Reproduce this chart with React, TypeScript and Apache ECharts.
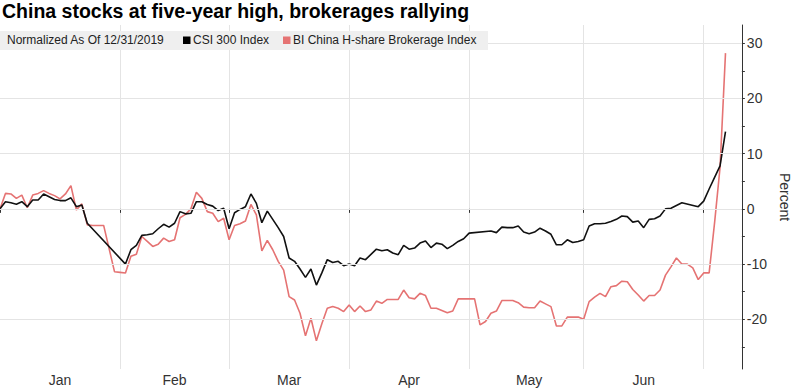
import { useEffect, useRef } from 'react';
import * as echarts from 'echarts';

const titleText = 'China stocks at five-year high, brokerages rallying';
const legendNote = 'Normalized As Of 12/31/2019';
const csiName = 'CSI 300 Index';
const brkName = 'BI China H-share Brokerage Index';
const monthLabels = ['Jan', 'Feb', 'Mar', 'Apr', 'May', 'Jun'];
const yLabelValues = [-20, -10, 0, 10, 20, 30];
const yTickValues = [-25, -20, -15, -10, -5, 0, 5, 10, 15, 20, 25, 30];
const gridValues = [-20, -10, 0, 10, 20, 30];
const axisStart = '2020-01-01';
const axisEnd = '2020-07-09';

// values per weekday of each month (null = market closed)
const csiJan = [0, 1.3, 1.1, 0.85, 1.3, 0.4, 1.6, 1.6, 2.7, 2.2, 1.7, 1.5, 1.5, 2.0, 0.4, 0.7, -2.6, null, null, null, null, null, null];
const brkJan = [0, 2.8, 2.7, 1.9, 2.5, 0.2, 2.5, 2.8, 3.3, 2.8, 2.4, 1.8, 2.7, 4.2, -0.2, 0.9, -2.9, -3.0, -3.0, -3.0, -7.2, -11.4, -11.5];
const csiFeb = [-10.0, -7.4, -6.6, -4.8, -4.7, -4.5, -3.6, -2.8, -3.3, -2.6, -0.5, -0.9, -0.8, 1.3, 1.3, 0.8, 0.5, -0.3, 0.1, -3.6];
const brkFeb = [-11.6, -8.6, -8.2, -5.0, -5.9, -6.8, -6.4, -5.3, -5.9, -5.6, -1.6, -1.0, 0.0, 3.0, 1.9, -0.5, -0.8, -2.3, -1.7, -5.6];
const csiMar = [-0.7, -0.1, 0.4, 2.7, 1.0, -2.5, -0.4, -1.9, -3.4, -5.0, -8.9, -9.5, -10.9, -12.4, -10.9, -13.8, -11.6, -9.2, -9.7, -9.5, -10.3, -10.0];
const brkMar = [-3.0, -2.7, -2.2, 0.8, -1.1, -7.6, -5.7, -7.4, -9.5, -11.1, -15.9, -16.5, -18.9, -23.0, -19.8, -23.9, -20.8, -18.0, -17.7, -18.0, -18.6, -17.4];
const csiApr = [-10.3, -8.9, -9.2, null, -7.3, -7.6, -7.4, -8.0, -8.3, -6.6, -7.3, -7.1, -6.2, -5.8, -7.0, -6.2, -6.4, -7.2, -6.6, -5.9, -5.4, -4.4];
const brkApr = [-18.6, -17.6, -18.6, -18.3, -16.7, -17.1, -16.4, -16.4, -16.4, -14.7, -16.1, -16.3, -15.3, -15.7, -18.0, -18.0, -18.4, -18.8, -18.5, -16.3, -16.3, -16.3];
const csiMay = [null, null, null, -4.0, -4.3, -3.3, -3.4, -3.4, -3.1, -4.2, -4.5, -4.2, -3.5, -4.0, -4.6, -6.5, -6.5, -5.6, -6.1, -5.9, -5.6];
const brkMay = [-16.3, -21.0, -20.4, -18.9, -18.5, -16.6, -16.6, -16.6, -17.0, -17.8, -17.9, -17.9, -16.7, -17.2, -17.7, -21.2, -21.2, -19.6, -19.6, -19.6, -20.0];
const csiJun = [-3.1, -2.7, -2.7, -2.6, -2.3, -1.9, -1.3, -1.4, -2.4, -2.2, -3.4, -1.9, -1.8, -1.3, 0.0, 0.1, 0.6, 1.1, null, null, 0.4, 1.4];
const brkJun = [-16.8, -16.0, -15.3, -15.9, -14.1, -13.9, -13.1, -13.2, -14.6, -15.6, -16.7, -15.7, -15.7, -14.7, -12.0, -10.5, -8.9, -10.0, -10.0, -10.7, -12.8, -11.6];
const csiJul = [3.6, 5.7, 7.8, 14.0, null, null, null];
const brkJul = [-11.6, -2.5, 7.5, 28.2, null, null, null];

function weekdayCategories(start: string, end: string): string[] {
  const out: string[] = [];
  const d = new Date(start + 'T00:00:00Z');
  const last = new Date(end + 'T00:00:00Z');
  while (d.getTime() <= last.getTime()) {
    const wd = d.getUTCDay();
    if (wd !== 0 && wd !== 6) out.push(d.toISOString().slice(0, 10));
    d.setUTCDate(d.getUTCDate() + 1);
  }
  return out;
}

const categories = weekdayCategories(axisStart, axisEnd);
const csiData = [...csiJan, ...csiFeb, ...csiMar, ...csiApr, ...csiMay, ...csiJun, ...csiJul];
const brkData = [...brkJan, ...brkFeb, ...brkMar, ...brkApr, ...brkMay, ...brkJun, ...brkJul];

const monthOf = (s: string) => Number(s.slice(5, 7));
const boundaryIdx: number[] = [0];
categories.forEach((c, i) => {
  if (i < categories.length - 1 && monthOf(c) !== monthOf(categories[i + 1])) boundaryIdx.push(i);
});
const labelIdx: number[] = [];
for (let j = 0; j < monthLabels.length; j++) {
  labelIdx.push(Math.round((boundaryIdx[j] + boundaryIdx[j + 1]) / 2));
}

const RED = '#e57373';
const FONT = 'Liberation Sans, Arial, sans-serif';

export default function App() {
  const ref = useRef<HTMLDivElement>(null);
  useEffect(() => {
    if (!ref.current) return;
    const chart = echarts.init(ref.current, null, { renderer: 'svg' });
    chart.setOption({
      animation: false,
      backgroundColor: '#ffffff',
      textStyle: { fontFamily: FONT },
      grid: { left: 0, right: 53, top: 25, bottom: 21, containLabel: false },
      xAxis: {
        type: 'category',
        data: categories,
        boundaryGap: false,
        axisLine: { show: true, lineStyle: { color: '#333', width: 1 } },
        axisTick: {
          show: true,
          length: 4,
          interval: (i: number) => boundaryIdx.includes(i),
          lineStyle: { color: '#333' },
        },
        axisLabel: {
          interval: (i: number) => labelIdx.includes(i),
          formatter: (v: string) => monthLabels[monthOf(v) - 1],
          color: '#333',
          fontSize: 14,
          margin: 4,
          fontFamily: FONT,
        },
        splitLine: {
          show: true,
          interval: (i: number) => boundaryIdx.includes(i) && i > 0,
          lineStyle: { color: '#e4e4e4', width: 1 },
        },
      },
      yAxis: {
        type: 'value',
        position: 'right',
        min: -29,
        max: 33.3,
        axisLine: { show: true, lineStyle: { color: '#333', width: 1 } },
        axisTick: { show: true, customValues: yTickValues, length: 3, lineStyle: { color: '#333' } },
        axisLabel: { customValues: yLabelValues, color: '#333', fontSize: 14, margin: 5, fontFamily: FONT },
        splitLine: { show: false },
        name: 'Percent',
        nameLocation: 'middle',
        nameRotate: -90,
        nameGap: 34,
        nameTextStyle: { fontSize: 14, color: '#333', fontFamily: FONT },
      },
      series: [
        {
          name: 'grid',
          type: 'line',
          data: [],
          z: 1,
          silent: true,
          markLine: {
            silent: true,
            symbol: ['none', 'none'],
            label: { show: false },
            lineStyle: { color: '#e4e4e4', width: 1, type: 'solid' },
            emphasis: { disabled: true },
            data: gridValues.map((v) => ({ yAxis: v })),
          },
        },
        {
          name: brkName,
          type: 'line',
          data: brkData,
          connectNulls: true,
          showSymbol: false,
          symbol: 'none',
          z: 3,
          silent: true,
          lineStyle: { color: RED, width: 1.6 },
          itemStyle: { color: RED },
        },
        {
          name: csiName,
          type: 'line',
          data: csiData,
          connectNulls: true,
          showSymbol: false,
          symbol: 'none',
          z: 4,
          silent: true,
          lineStyle: { color: '#111', width: 1.6 },
          itemStyle: { color: '#111' },
        },
      ],
      graphic: [
        {
          type: 'text',
          left: 2,
          top: 1,
          z: 10,
          style: { text: titleText, fontSize: 19.5, fontWeight: 'bold', fill: '#000', fontFamily: FONT },
        },
        {
          type: 'rect',
          z: 10,
          shape: { x: 0, y: 31, width: 488, height: 19 },
          style: { fill: '#efefef' },
        },
        {
          type: 'text',
          z: 11,
          x: 7,
          y: 40,
          style: { text: legendNote, fontSize: 12, fill: '#222', fontFamily: FONT, verticalAlign: 'middle' },
        },
        {
          type: 'rect',
          z: 11,
          shape: { x: 183, y: 36.5, width: 7.5, height: 7.5 },
          style: { fill: '#000' },
        },
        {
          type: 'text',
          z: 11,
          x: 193,
          y: 40,
          style: { text: csiName, fontSize: 12, fill: '#222', fontFamily: FONT, verticalAlign: 'middle' },
        },
        {
          type: 'rect',
          z: 11,
          shape: { x: 283, y: 36.5, width: 7.5, height: 7.5 },
          style: { fill: RED },
        },
        {
          type: 'text',
          z: 11,
          x: 293,
          y: 40,
          style: { text: brkName, fontSize: 12, fill: '#222', fontFamily: FONT, verticalAlign: 'middle' },
        },
      ],
    });
    return () => chart.dispose();
  }, []);
  return (
    <div style={{ position: 'fixed', left: 0, top: 0, width: 800, height: 390, background: '#fff' }}>
      <div ref={ref} style={{ width: 800, height: 390 }} />
    </div>
  );
}
